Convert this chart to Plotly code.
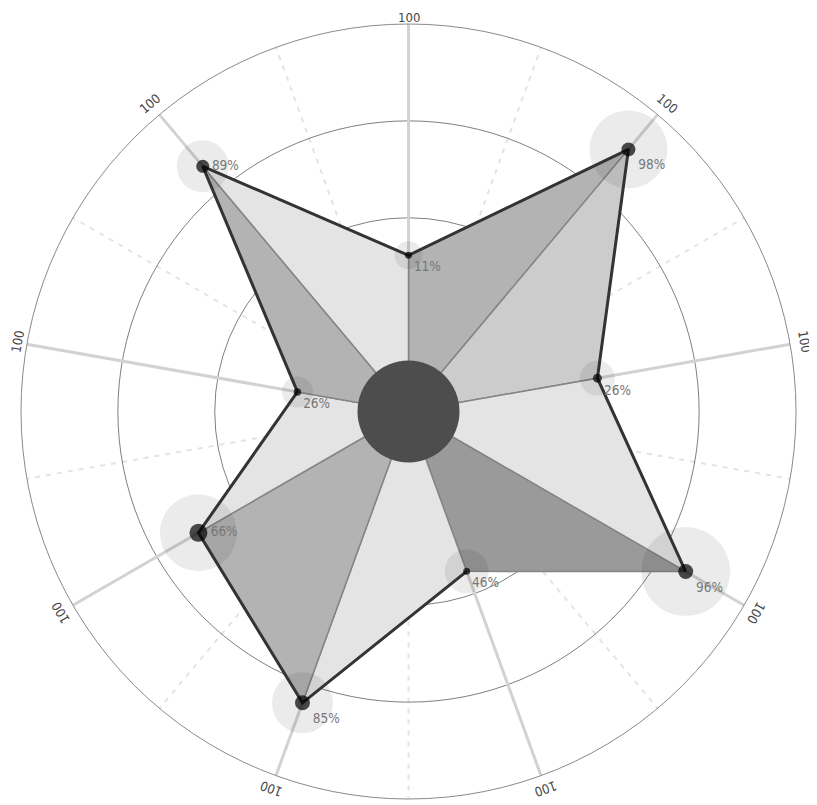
import math
import plotly.graph_objects as go

# one spoke every 40 degrees, clockwise from the top
angles = [0, 40, 80, 120, 160, 200, 240, 280, 320]
radius = [40.3, 88.3, 49.5, 82.6, 43.9, 80.0, 62.6, 29.1, 82.6]
percent = [11, 98, 26, 96, 46, 85, 66, 26, 89]
halo = [28, 78, 35, 89, 44, 61, 77, 31, 52]
weight = [7, 14, 9, 15, 7, 15, 18, 7.5, 13]
axis_max = ["100"] * 9

shades = ["#b3b3b3", "#cccccc", "#e4e4e4", "#9a9a9a", "#e4e4e4",
          "#b3b3b3", "#e4e4e4", "#b3b3b3", "#e4e4e4"]
text_pos = ["bottom right", "bottom right", "bottom right", "bottom right", "bottom right",
            "bottom right", "middle right", "bottom right", "middle right"]

FONT = "DejaVu Sans Condensed, Liberation Sans Narrow, Roboto, sans-serif"
W, H = 809, 797
CX, CY, R = 400.5, 403.5, 387.5

fig = go.Figure()

# solid axes
for a in angles:
    fig.add_trace(go.Scatterpolar(r=[0, 100], theta=[a, a], mode="lines",
                                  line=dict(color="#d2d2d2", width=3),
                                  hoverinfo="skip", showlegend=False))

# wedges between neighbouring points
n = len(angles)
for i in range(n):
    j = (i + 1) % n
    fig.add_trace(go.Scatterpolar(
        r=[0, radius[i], radius[j], 0],
        theta=[angles[i], angles[i], angles[j], angles[j]],
        mode="lines", fill="toself", fillcolor=shades[i],
        line=dict(color="#858585", width=1.5),
        hoverinfo="skip", showlegend=False))

# dark hub
fig.add_trace(go.Scatterpolar(r=[0], theta=[0], mode="markers",
                              marker=dict(size=102, color="#4d4d4d", line=dict(width=0)),
                              hoverinfo="skip", showlegend=False))

# halos
fig.add_trace(go.Scatterpolar(r=radius, theta=angles, mode="markers",
                              marker=dict(size=halo, color="rgba(0,0,0,0.11)", line=dict(width=0)),
                              hoverinfo="skip", showlegend=False))

# outline (open, starts at the 160 degree spoke)
order = list(range(4, n)) + list(range(0, 4))
fig.add_trace(go.Scatterpolar(r=[radius[k] for k in order], theta=[angles[k] for k in order],
                              mode="lines", line=dict(color="#333333", width=3),
                              hoverinfo="skip", showlegend=False))

# points with labels
fig.add_trace(go.Scatterpolar(r=radius, theta=angles, mode="markers+text",
                              marker=dict(size=weight, color="#000000", line=dict(width=0)),
                              text=[f"{p}%" for p in percent], textposition=text_pos,
                              textfont=dict(family=FONT, size=13.5, color="#777777"),
                              showlegend=False))

# rotated "100" labels at the end of each spoke (kept inside the page)
for a, lab in zip(angles, axis_max):
    t = math.radians(a)
    px = CX + R * 1.037 * math.sin(t)
    py = CY - R * 1.037 * math.cos(t)
    px = min(max(px, 10), W - 10)
    py = min(max(py, 9), H - 9)
    fig.add_annotation(x=px / W, y=1 - py / H, xref="paper", yref="paper",
                       text=lab, showarrow=False, textangle=a,
                       xanchor="center", yanchor="middle",
                       font=dict(family=FONT, size=13, color="#444444"))

fig.update_layout(
    width=W, height=H,
    margin=dict(l=0, r=0, t=0, b=0),
    paper_bgcolor="white",
    showlegend=False,
    polar=dict(
        domain=dict(x=[(CX - R) / W, (CX + R) / W], y=[(H - CY - R) / H, (H - CY + R) / H]),
        bgcolor="white",
        radialaxis=dict(range=[0, 100], tickvals=[25, 50, 75], showticklabels=False,
                        ticks="", showline=False, gridcolor="rgba(0,0,0,0.5)", gridwidth=1,
                        layer="above traces"),
        angularaxis=dict(rotation=90, direction="clockwise",
                         tickvals=[20, 60, 100, 140, 180, 220, 260, 300, 340],
                         showticklabels=False, ticks="",
                         gridcolor="rgba(0,0,0,0.11)", gridwidth=2, griddash="5px,6px",
                         showline=True, linecolor="#8a8a8a", linewidth=1,
                         layer="above traces"),
    ),
)

fig.write_html("out.html")
